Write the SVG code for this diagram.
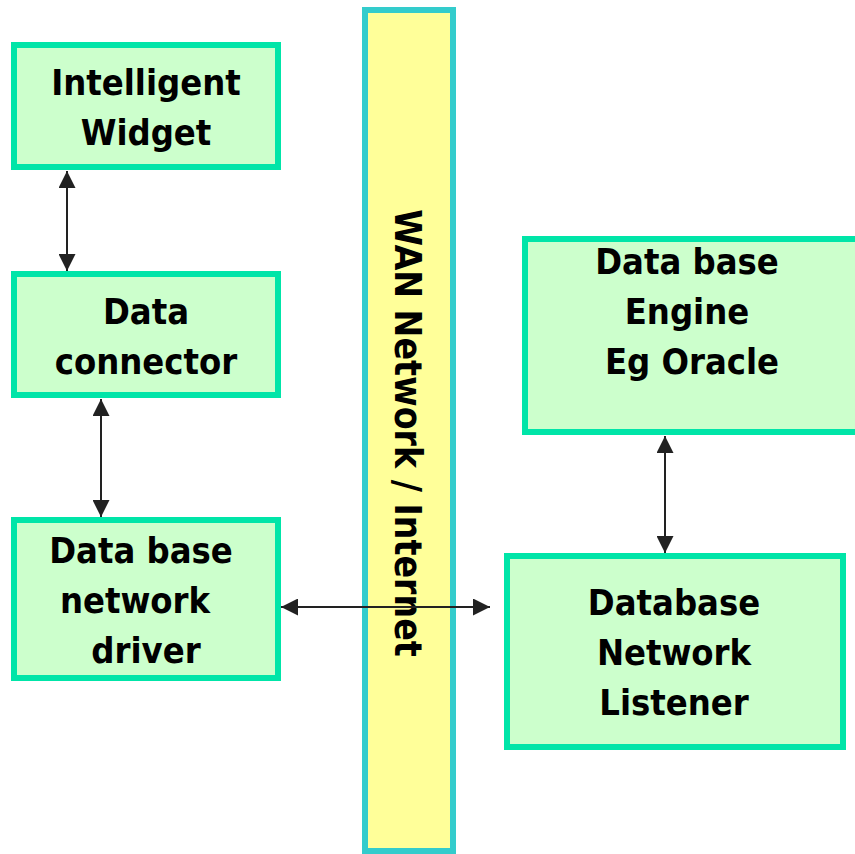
<svg xmlns="http://www.w3.org/2000/svg" width="855" height="854" viewBox="0 0 855 854">
<style>
.box{fill:#ccffcc;stroke:#00e5a8;stroke-width:6}
.t{font-family:"DejaVu Sans Condensed","DejaVu Sans",sans-serif;font-stretch:condensed;font-weight:bold;font-size:36px;fill:#000;text-anchor:middle}
.c{stroke:#222;stroke-width:2;fill:none;marker-start:url(#ah);marker-end:url(#ah)}
</style>
<defs>
<marker id="ah" viewBox="0 0 10 10" refX="10" refY="5" markerWidth="17" markerHeight="17" markerUnits="userSpaceOnUse" orient="auto-start-reverse">
<path d="M0,0 L10,5 L0,10 z" fill="#222"/>
</marker>
</defs>
<g id="wan">
<rect x="365" y="10" width="88" height="841" fill="#ffff99" stroke="#33cccc" stroke-width="6"/>
<text class="t" style="font-size:37px" transform="translate(395,433) rotate(90)">WAN Network / Internet</text>
</g>
<g id="widget">
<rect class="box" x="14" y="45" width="264" height="122"/>
<text class="t" x="146" y="95">Intelligent</text>
<text class="t" x="146" y="145">Widget</text>
</g>
<g id="connector">
<rect class="box" x="14" y="274" width="264" height="121"/>
<text class="t" x="146" y="324">Data</text>
<text class="t" x="146" y="374">connector</text>
</g>
<g id="driver">
<rect class="box" x="14" y="520" width="264" height="158"/>
<text class="t" x="141" y="563">Data base</text>
<text class="t" x="135" y="613">network</text>
<text class="t" x="146" y="663">driver</text>
</g>
<g id="engine">
<rect class="box" x="525" y="239" width="340" height="193"/>
<text class="t" x="687" y="274">Data base</text>
<text class="t" x="687" y="324">Engine</text>
<text class="t" x="692" y="374">Eg Oracle</text>
</g>
<g id="listener">
<rect class="box" x="507" y="556" width="336" height="191"/>
<text class="t" x="674" y="615">Database</text>
<text class="t" x="674" y="665">Network</text>
<text class="t" x="674" y="715">Listener</text>
</g>
<g id="connectors">
<line class="c" x1="67" y1="171" x2="67" y2="271"/>
<line class="c" x1="101" y1="399" x2="101" y2="517"/>
<line class="c" x1="281" y1="607" x2="490" y2="607"/>
<line class="c" x1="665" y1="436" x2="665" y2="553"/>
</g>
</svg>
